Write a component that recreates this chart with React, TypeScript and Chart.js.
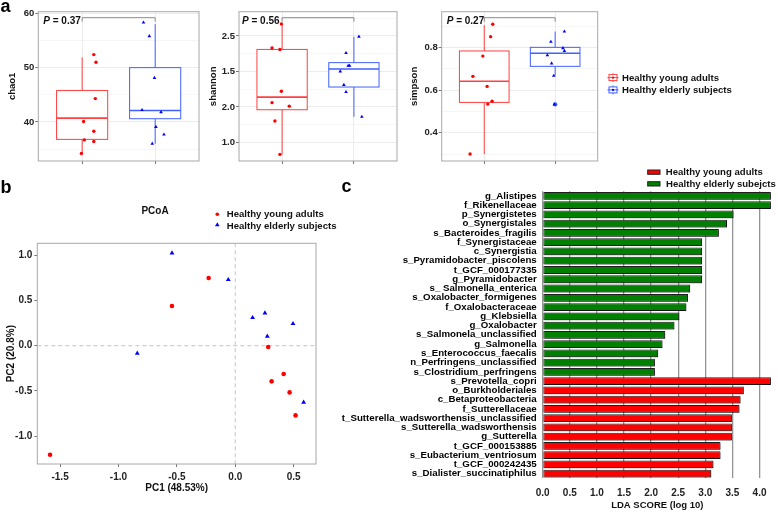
import React, { useEffect, useRef } from 'react';
import { Chart, registerables } from 'chart.js';
Chart.register(...registerables);

const FONT = "'Liberation Sans', Arial, Helvetica, sans-serif";
Chart.defaults.font.family = FONT;

// ---------------- Panel a : alpha diversity ----------------
const groupNames = ['Healthy young adults', 'Healthy elderly subjects'];

// box stats: [lower whisker, Q1, median, Q3, upper whisker]
const chao1YoungBox = [34.2, 36.8, 40.7, 45.8, 51.9];
const chao1ElderlyBox = [36.0, 40.6, 42.1, 50.0, 58.0];
const chao1YoungX = [1.16, 1.19, 1.18, 1.02, 1.16, 1.03, 1.16, 0.99];
const chao1YoungY = [52.4, 51.0, 44.3, 40.1, 38.3, 36.7, 36.4, 34.2];
const chao1ElderlyX = [1.84, 1.92, 1.99, 1.82, 2.08, 2.01, 2.12, 1.96];
const chao1ElderlyY = [58.3, 55.8, 48.1, 42.2, 41.8, 39.1, 37.7, 36.0];
const chao1Major = [40, 50, 60];
const chao1Minor = [35, 45, 55];
const chao1TickLabels = ['40', '50', '60'];
const chao1P = '0.37';

const shannonYoungBox = [0.83, 1.46, 1.637, 2.31, 2.67];
const shannonElderlyBox = [1.36, 1.78, 2.035, 2.124, 2.49];
const shannonYoungX = [0.99, 0.86, 0.97, 0.99, 0.86, 1.1, 0.9, 0.97];
const shannonYoungY = [2.67, 2.33, 2.31, 1.72, 1.56, 1.51, 1.3, 0.83];
const shannonElderlyX = [2.07, 1.89, 1.94, 1.92, 1.81, 1.86, 1.89, 2.11];
const shannonElderlyY = [2.49, 2.26, 2.08, 2.08, 2.0, 1.81, 1.71, 1.36];
const shannonMajor = [1.0, 1.5, 2.0, 2.5];
const shannonMinor = [0.75, 1.25, 1.75, 2.25, 2.75];
const shannonTickLabels = ['1.0', '2.0', '1.5', '2.5'];
const shannonP = '0.56';

const simpsonYoungBox = [0.3, 0.542, 0.641, 0.783, 0.904];
const simpsonElderlyBox = [0.667, 0.711, 0.772, 0.8, 0.874];
const simpsonElderlyOutliers = [0.533];
const simpsonYoungX = [1.12, 1.09, 0.98, 0.84, 1.04, 1.11, 1.05, 0.8];
const simpsonYoungY = [0.908, 0.85, 0.759, 0.664, 0.617, 0.548, 0.534, 0.3];
const simpsonElderlyX = [2.13, 1.94, 2.11, 2.13, 1.89, 1.95, 1.98, 1.99];
const simpsonElderlyY = [0.874, 0.826, 0.796, 0.783, 0.763, 0.725, 0.667, 0.533];
const simpsonMajor = [0.4, 0.6, 0.8];
const simpsonMinor = [0.3, 0.5, 0.7, 0.9];
const simpsonTickLabels = ['0.4', '0.6', '0.8'];
const simpsonP = '0.27';

// ---------------- Panel b : PCoA ----------------
const pcoaYoungX = [-0.228, -0.542, 0.282, 0.414, 0.311, 0.465, 0.516, -1.586];
const pcoaYoungY = [0.748, 0.438, -0.015, -0.313, -0.394, -0.516, -0.77, -1.204];
const pcoaElderlyX = [-0.542, -0.06, 0.148, 0.254, 0.494, 0.274, -0.839, 0.585];
const pcoaElderlyY = [1.024, 0.729, 0.309, 0.361, 0.243, 0.103, -0.085, -0.626];
const pcoaXTicks = [-1.5, -1.0, -0.5, 0.0, 0.5];
const pcoaYTicks = [-1.0, -0.5, 0.0, 0.5, 1.0];

// ---------------- Panel c : LEfSe LDA ----------------
const elderlyTaxa = [
  'g_Alistipes', 'f_Rikenellaceae', 'p_Synergistetes', 'o_Synergistales', 's_Bacteroides_fragilis',
  'f_Synergistaceae', 'c_Synergistia', 's_Pyramidobacter_piscolens', 't_GCF_000177335', 'g_Pyramidobacter',
  's_ Salmonella_enterica', 's_Oxalobacter_formigenes', 'f_Oxalobacteraceae', 'g_Klebsiella', 'g_Oxalobacter',
  's_Salmonela_unclassified', 'g_Salmonella', 's_Enterococcus_faecalis', 'n_Perfringens_unclassified',
  's_Clostridium_perfringens',
];
const elderlyLDA = [4.21, 4.21, 3.52, 3.4, 3.25, 2.94, 2.94, 2.94, 2.94, 2.94, 2.72, 2.68, 2.65, 2.52, 2.43, 2.26, 2.21, 2.13, 2.07, 2.07];
const youngTaxa = [
  's_Prevotella_copri', 'o_Burkholderiales', 'c_Betaproteobacteria', 'f_Sutterellaceae',
  't_Sutterella_wadsworthensis_unclassified', 's_Sutterella_wadsworthensis', 'g_Sutterella',
  't_GCF_000153885', 's_Eubacterium_ventriosum', 't_GCF_000242435', 's_Dialister_succinatiphilus',
];
const youngLDA = [4.21, 3.71, 3.65, 3.63, 3.49, 3.49, 3.49, 3.28, 3.28, 3.15, 3.11];
const ldaTicks = [0, 0.5, 1.0, 1.5, 2.0, 2.5, 3.0, 3.5, 4.0];
const ldaLegend = ['Healthy young adults', 'Healthy elderly subejcts'];

// ---------------- styles ----------------
const RED_BOX = '#ff4040';
const BLUE_BOX = '#4060ff';
const RED_PT = '#ff0000';
const BLUE_PT = '#0000ff';
const FRAME = '#a8a8a8';
const TICK_TXT = '#222222';
const LEGEND_SIZE = 9.6;

const near = (a: number, b: number) => Math.abs(a - b) < 1e-9;
const boldFont = (size: number) => `bold ${size}px ${FONT}`;

function drawPanelLetter(ctx: any, letter: string, x: number, y: number) {
  ctx.save();
  ctx.fillStyle = '#000';
  ctx.font = boldFont(18);
  ctx.textAlign = 'left';
  ctx.textBaseline = 'alphabetic';
  ctx.fillText(letter, x, y);
  ctx.restore();
}

function makeBoxChart(canvas: HTMLCanvasElement, s: any) {
  const allTicks = [...s.major, ...s.minor].sort((a, b) => a - b);
  const isMajor = (v: number) => s.major.some((m: number) => near(m, v));
  const labelFor = (v: number) => {
    const i = s.major.findIndex((m: number) => near(m, v));
    return i >= 0 ? s.tickLabels[i] : '';
  };
  const boxPlugin = {
    id: 'boxes',
    beforeDatasetsDraw(chart: any) {
      const { ctx } = chart;
      const xs = chart.scales.x;
      const ys = chart.scales.y;
      s.boxes.forEach((b: number[], g: number) => {
        const pos = g + 1;
        const cx = xs.getPixelForValue(pos);
        const hw = xs.getPixelForValue(pos + 0.35) - cx;
        const [lo, q1, med, q3, hi] = b.map((v) => ys.getPixelForValue(v));
        const col = g === 0 ? RED_BOX : BLUE_BOX;
        ctx.save();
        ctx.strokeStyle = col;
        ctx.lineWidth = 1;
        ctx.beginPath();
        ctx.moveTo(cx, lo); ctx.lineTo(cx, q1);
        ctx.moveTo(cx, q3); ctx.lineTo(cx, hi);
        ctx.stroke();
        ctx.fillStyle = '#ffffff';
        ctx.fillRect(cx - hw, q3, hw * 2, q1 - q3);
        ctx.strokeRect(cx - hw, q3, hw * 2, q1 - q3);
        ctx.lineWidth = 1.6;
        ctx.beginPath();
        ctx.moveTo(cx - hw, med); ctx.lineTo(cx + hw, med);
        ctx.stroke();
        ctx.restore();
      });
    },
    afterDatasetsDraw(chart: any) {
      const { ctx, chartArea: ca } = chart;
      const xs = chart.scales.x;
      ctx.save();
      ctx.strokeStyle = FRAME;
      ctx.lineWidth = 1;
      ctx.strokeRect(ca.left, ca.top, ca.right - ca.left, ca.bottom - ca.top);
      // significance bracket
      const x1 = xs.getPixelForValue(1);
      const x2 = xs.getPixelForValue(2);
      const by = ca.top + 6;
      ctx.strokeStyle = '#8a8a8a';
      ctx.beginPath();
      ctx.moveTo(x1, by + 4); ctx.lineTo(x1, by); ctx.lineTo(x2, by); ctx.lineTo(x2, by + 4);
      ctx.stroke();
      ctx.fillStyle = '#111';
      ctx.textBaseline = 'alphabetic';
      ctx.textAlign = 'left';
      const tx = ca.left + s.pOffset;
      const ty = ca.top + 11.8;
      ctx.font = `italic bold 10px ${FONT}`;
      ctx.fillText('P', tx, ty);
      const w = ctx.measureText('P').width;
      ctx.font = boldFont(10);
      ctx.fillText(' = ' + s.p, tx + w, ty);
      ctx.restore();
    },
    afterDraw(chart: any) {
      if (s.extra) s.extra(chart.ctx);
    },
  };
  return new Chart(canvas, {
    type: 'scatter',
    data: {
      datasets: [
        {
          label: groupNames[0],
          data: s.youngX.map((x: number, i: number) => ({ x, y: s.youngY[i] })),
          pointStyle: 'circle', pointRadius: 1.7, backgroundColor: RED_PT, borderWidth: 0,
        },
        {
          label: groupNames[1],
          data: s.elderlyX.map((x: number, i: number) => ({ x, y: s.elderlyY[i] })),
          pointStyle: 'triangle', pointRadius: 2.1, backgroundColor: BLUE_PT, borderWidth: 0,
        },
        {
          label: 'outliers',
          data: (s.outliers || []).map((y: number) => ({ x: 2, y })),
          pointStyle: 'circle', pointRadius: 2.2, backgroundColor: BLUE_BOX, borderWidth: 0,
        },
      ],
    },
    options: {
      responsive: false,
      animation: false,
      devicePixelRatio: 1,
      layout: { padding: { top: s.padTop, right: s.padRight, left: 0, bottom: 0 } },
      plugins: { legend: { display: false }, tooltip: { enabled: false } },
      scales: {
        x: {
          type: 'linear', min: 0.4, max: 2.6,
          afterBuildTicks: (sc: any) => { sc.ticks = [{ value: 1 }, { value: 2 }]; },
          ticks: { display: false },
          grid: { color: '#ececec', lineWidth: 1, tickLength: 3, tickColor: '#777' },
          border: { display: false },
          afterFit: (sc: any) => { sc.height = s.xAxisH; },
        },
        y: {
          type: 'linear', min: s.yMin, max: s.yMax,
          afterBuildTicks: (sc: any) => { sc.ticks = allTicks.map((v) => ({ value: v })); },
          ticks: {
            autoSkip: false, padding: 1, color: TICK_TXT,
            font: { size: 9.5, weight: 'bold', family: FONT },
            callback: (v: any) => labelFor(Number(v)),
          },
          grid: {
            color: '#ececec',
            lineWidth: (c: any) => (c.tick && isMajor(c.tick.value) ? 1 : 0.5),
            tickLength: 3,
            tickColor: (c: any) => (c.tick && isMajor(c.tick.value) ? '#777' : 'rgba(0,0,0,0)'),
          },
          border: { display: false },
          title: {
            display: true, text: s.title, color: '#111',
            font: { size: 9.5, weight: 'bold', family: FONT },
            padding: { top: s.titlePad, bottom: 0 },
          },
          afterFit: (sc: any) => { sc.width = s.yAxisW; },
        },
      },
    },
    plugins: [boxPlugin],
  } as any);
}

function makePcoaChart(canvas: HTMLCanvasElement, left: number, top: number, padRight: number) {
  const deco = {
    id: 'pcoaDeco',
    beforeDatasetsDraw(chart: any) {
      const { ctx, chartArea: ca } = chart;
      const xs = chart.scales.x;
      const ys = chart.scales.y;
      ctx.save();
      ctx.strokeStyle = '#d0d0d0';
      ctx.lineWidth = 1.2;
      ctx.setLineDash([4, 3]);
      const x0 = xs.getPixelForValue(0);
      const y0 = ys.getPixelForValue(0);
      ctx.beginPath();
      ctx.moveTo(x0, ca.top); ctx.lineTo(x0, ca.bottom);
      ctx.moveTo(ca.left, y0); ctx.lineTo(ca.right, y0);
      ctx.stroke();
      ctx.restore();
    },
    afterDraw(chart: any) {
      const { ctx, chartArea: ca } = chart;
      ctx.save();
      ctx.strokeStyle = FRAME;
      ctx.lineWidth = 1;
      ctx.strokeRect(ca.left, ca.top, ca.right - ca.left, ca.bottom - ca.top);
      ctx.translate(-left, -top);
      drawPanelLetter(ctx, 'b', 0.5, 193);
      ctx.fillStyle = '#111';
      ctx.font = boldFont(10);
      ctx.textAlign = 'center';
      ctx.textBaseline = 'middle';
      ctx.fillText('PCoA', 155, 211);
      // legend
      ctx.font = boldFont(LEGEND_SIZE);
      ctx.textAlign = 'left';
      ctx.fillText(groupNames[0], 226.7, 214.5);
      ctx.fillText(groupNames[1], 226.7, 226.5);
      ctx.fillStyle = RED_PT;
      ctx.beginPath(); ctx.arc(217.3, 214.3, 1.8, 0, Math.PI * 2); ctx.fill();
      ctx.fillStyle = BLUE_PT;
      ctx.beginPath();
      ctx.moveTo(217.3, 222.2); ctx.lineTo(219.6, 226.2); ctx.lineTo(215.0, 226.2); ctx.closePath();
      ctx.fill();
      ctx.restore();
    },
  };
  const tickFont = { size: 10, weight: 'bold', family: FONT };
  return new Chart(canvas, {
    type: 'scatter',
    data: {
      datasets: [
        {
          label: groupNames[0],
          data: pcoaYoungX.map((x, i) => ({ x, y: pcoaYoungY[i] })),
          pointStyle: 'circle', pointRadius: 2.3, backgroundColor: RED_PT, borderWidth: 0,
        },
        {
          label: groupNames[1],
          data: pcoaElderlyX.map((x, i) => ({ x, y: pcoaElderlyY[i] })),
          pointStyle: 'triangle', pointRadius: 2.8, backgroundColor: BLUE_PT, borderWidth: 0,
        },
      ],
    },
    options: {
      responsive: false,
      animation: false,
      devicePixelRatio: 1,
      layout: { padding: { top: 71.3, right: padRight, left: 0, bottom: 0 } },
      plugins: { legend: { display: false }, tooltip: { enabled: false } },
      scales: {
        x: {
          type: 'linear', min: -1.695, max: 0.691,
          afterBuildTicks: (sc: any) => { sc.ticks = pcoaXTicks.map((v) => ({ value: v })); },
          ticks: { autoSkip: false, padding: 4, color: TICK_TXT, font: tickFont, callback: (v: any) => Number(v).toFixed(1) },
          grid: { drawOnChartArea: false, tickLength: 3, tickColor: '#777' },
          border: { display: false },
          title: { display: true, text: 'PC1 (48.53%)', color: '#111', font: tickFont, padding: { top: 0, bottom: 5.3 } },
          afterFit: (sc: any) => { sc.height = 36; },
        },
        y: {
          type: 'linear', min: -1.307, max: 1.131,
          afterBuildTicks: (sc: any) => { sc.ticks = pcoaYTicks.map((v) => ({ value: v })); },
          ticks: { autoSkip: false, padding: 2, color: TICK_TXT, font: tickFont, callback: (v: any) => Number(v).toFixed(1) },
          grid: { drawOnChartArea: false, tickLength: 3, tickColor: '#777' },
          border: { display: false },
          title: { display: true, text: 'PC2 (20.8%)', color: '#111', font: tickFont, padding: { top: 5.7, bottom: 0 } },
          afterFit: (sc: any) => { sc.width = 37.3; },
        },
      },
    },
    plugins: [deco],
  } as any);
}

function makeLdaChart(canvas: HTMLCanvasElement, left: number, top: number) {
  const labels = [...elderlyTaxa, ...youngTaxa];
  const shadow = {
    id: 'barShadow',
    beforeDatasetsDraw(chart: any) {
      const { ctx } = chart;
      ctx.save();
      ctx.shadowColor = 'rgba(0,0,0,0.35)';
      ctx.shadowOffsetX = 1.2;
      ctx.shadowOffsetY = 1.2;
      ctx.shadowBlur = 0;
    },
    afterDatasetsDraw(chart: any) {
      chart.ctx.restore();
    },
    afterDraw(chart: any) {
      const { ctx } = chart;
      ctx.save();
      ctx.translate(-left, -top);
      drawPanelLetter(ctx, 'c', 341.5, 191.7);
      ctx.lineWidth = 1;
      ctx.strokeStyle = '#222';
      ctx.fillStyle = '#ff0000';
      ctx.fillRect(647.7, 170, 12.3, 4.3);
      ctx.strokeRect(647.7, 170, 12.3, 4.3);
      ctx.fillStyle = '#008000';
      ctx.fillRect(647.7, 181.7, 12.3, 4.3);
      ctx.strokeRect(647.7, 181.7, 12.3, 4.3);
      ctx.fillStyle = '#111';
      ctx.font = boldFont(LEGEND_SIZE);
      ctx.textAlign = 'left';
      ctx.textBaseline = 'middle';
      ctx.fillText(ldaLegend[0], 665.7, 172.3);
      ctx.fillText(ldaLegend[1], 666, 184);
      ctx.restore();
    },
  };
  const common = {
    borderColor: '#1e1e1e', borderWidth: 1, borderSkipped: false,
    grouped: false, barPercentage: 0.84, categoryPercentage: 1,
  };
  return new Chart(canvas, {
    type: 'bar',
    data: {
      labels,
      datasets: [
        { label: ldaLegend[1], data: [...elderlyLDA, ...youngTaxa.map(() => null)], backgroundColor: '#008000', ...common },
        { label: ldaLegend[0], data: [...elderlyTaxa.map(() => null), ...youngLDA], backgroundColor: '#ff0000', ...common },
      ],
    },
    options: {
      indexAxis: 'y',
      responsive: false,
      animation: false,
      devicePixelRatio: 1,
      layout: { padding: { top: 26.3, right: 6, left: 0, bottom: 0 } },
      plugins: { legend: { display: false }, tooltip: { enabled: false } },
      scales: {
        x: {
          type: 'linear', min: 0, max: 4.23, z: 1,
          afterBuildTicks: (sc: any) => { sc.ticks = ldaTicks.map((v) => ({ value: v })); },
          ticks: { autoSkip: false, padding: 8.5, color: TICK_TXT, font: { size: 10, weight: 'bold', family: FONT }, callback: (v: any) => Number(v).toFixed(1) },
          grid: { color: 'rgba(0,0,0,0.42)', lineWidth: 1.3, drawTicks: false },
          border: { display: false },
          title: { display: true, text: 'LDA SCORE (log 10)', color: '#111', font: { size: 9.5, weight: 'bold', family: FONT }, padding: { top: 0, bottom: 1 } },
          afterFit: (sc: any) => { sc.height = 33.7; },
        },
        y: {
          type: 'category',
          grid: { display: false, drawTicks: false },
          border: { display: false },
          ticks: { autoSkip: false, padding: 6, color: '#000', font: { size: 9.7, weight: 'bold', family: FONT } },
          afterFit: (sc: any) => { sc.width = 207.7; },
        },
      },
    },
    plugins: [shadow],
  } as any);
}

const layoutBoxes = [
  { left: 0, top: 0, width: 205, height: 172 },
  { left: 205, top: 0, width: 200, height: 172 },
  { left: 405, top: 0, width: 373, height: 172 },
  { left: 0, top: 172, width: 345, height: 328 },
  { left: 335, top: 165, width: 443, height: 347 },
];

export default function App() {
  const refs = [useRef<HTMLCanvasElement>(null), useRef<HTMLCanvasElement>(null), useRef<HTMLCanvasElement>(null), useRef<HTMLCanvasElement>(null), useRef<HTMLCanvasElement>(null)];

  useEffect(() => {
    const charts: any[] = [];
    const c = refs.map((r) => r.current as HTMLCanvasElement);
    charts.push(makeBoxChart(c[0], {
      title: 'chao1', yMin: 32.82, yMax: 60.29, major: chao1Major, minor: chao1Minor, tickLabels: chao1TickLabels,
      boxes: [chao1YoungBox, chao1ElderlyBox], youngX: chao1YoungX, youngY: chao1YoungY,
      elderlyX: chao1ElderlyX, elderlyY: chao1ElderlyY, p: chao1P, pOffset: 5,
      yAxisW: 38.3, padTop: 11.7, padRight: 6, xAxisH: 11, titlePad: 7,
      extra: (ctx: any) => drawPanelLetter(ctx, 'a', 0.5, 11.7),
    }));
    charts.push(makeBoxChart(c[1], {
      title: 'shannon', yMin: 0.737, yMax: 2.842, major: shannonMajor, minor: shannonMinor, tickLabels: shannonTickLabels,
      boxes: [shannonYoungBox, shannonElderlyBox], youngX: shannonYoungX, youngY: shannonYoungY,
      elderlyX: shannonElderlyX, elderlyY: shannonElderlyY, p: shannonP, pOffset: 3,
      yAxisW: 34, padTop: 11.7, padRight: 8, xAxisH: 11, titlePad: 2.6,
    }));
    charts.push(makeBoxChart(c[2], {
      title: 'simpson', yMin: 0.2675, yMax: 0.967, major: simpsonMajor, minor: simpsonMinor, tickLabels: simpsonTickLabels,
      boxes: [simpsonYoungBox, simpsonElderlyBox], outliers: simpsonElderlyOutliers,
      youngX: simpsonYoungX, youngY: simpsonYoungY, elderlyX: simpsonElderlyX, elderlyY: simpsonElderlyY,
      p: simpsonP, pOffset: 5,
      yAxisW: 36.7, padTop: 11.7, padRight: 180.3, xAxisH: 11, titlePad: 3.6,
      extra: (ctx: any) => {
        ctx.save();
        ctx.translate(-405, 0);
        const items = [
          { col: RED_BOX, y: 77.6, text: groupNames[0] },
          { col: BLUE_BOX, y: 89.9, text: groupNames[1] },
        ];
        items.forEach((it) => {
          ctx.strokeStyle = it.col;
          ctx.lineWidth = 1;
          ctx.strokeRect(609, it.y - 3, 8, 6);
          ctx.beginPath();
          ctx.moveTo(607.5, it.y); ctx.lineTo(618.5, it.y);
          ctx.moveTo(613, it.y - 4.5); ctx.lineTo(613, it.y - 3);
          ctx.moveTo(613, it.y + 3); ctx.lineTo(613, it.y + 4.5);
          ctx.stroke();
          ctx.fillStyle = it.col === RED_BOX ? RED_PT : BLUE_PT;
          ctx.fillRect(612, it.y - 1, 2, 2);
          ctx.fillStyle = '#111';
          ctx.font = boldFont(LEGEND_SIZE);
          ctx.textAlign = 'left';
          ctx.textBaseline = 'middle';
          ctx.fillText(it.text, 622, it.y + 0.3);
        });
        ctx.restore();
      },
    }));
    charts.push(makePcoaChart(c[3], layoutBoxes[3].left, layoutBoxes[3].top, 345 - 316));
    charts.push(makeLdaChart(c[4], layoutBoxes[4].left, layoutBoxes[4].top));
    return () => { charts.forEach((ch) => ch.destroy()); };
  }, []);

  return (
    <div style={{ position: 'absolute', left: 0, top: 0, width: 778, height: 512, background: '#ffffff', overflow: 'hidden' }}>
      {layoutBoxes.map((b, i) => (
        <canvas
          key={i}
          ref={refs[i]}
          width={b.width}
          height={b.height}
          style={{ position: 'absolute', left: b.left, top: b.top, width: b.width, height: b.height, display: 'block' }}
        />
      ))}
    </div>
  );
}
